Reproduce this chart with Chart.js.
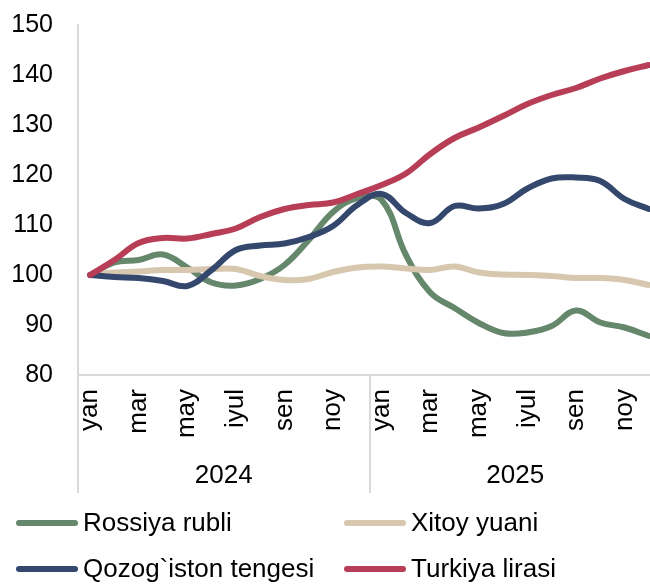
<!DOCTYPE html>
<html>
<head>
<meta charset="utf-8">
<script src="https://cdn.jsdelivr.net/npm/chart.js@4/dist/chart.umd.min.js"></script>
<style>
html,body{margin:0;padding:0;background:#fff;overflow:hidden;width:650px;height:585px;}
#wrap{position:absolute;left:0;top:0;width:662px;height:585px;}
</style>
</head>
<body>
<div id="wrap"><canvas id="c" width="662" height="585"></canvas></div>
<script>
const months = ['yan','fev','mar','apr','may','iyun','iyul','avg','sen','okt','noy','dek',
                'yan','fev','mar','apr','may','iyun','iyul','avg','sen','okt','noy','dek'];
const years = ['2024','2025'];
const rossiyaRubli = [100,102.5,103,104.1,101.5,98.5,97.9,99.2,102,107,112.6,115.4,
                      115,104,96.5,93.4,90.4,88.4,88.5,89.8,92.9,90.5,89.5,87.8];
const xitoyYuani = [100,100.5,100.7,101,101,101.2,101.2,99.8,99,99.2,100.6,101.5,
                    101.7,101.3,101,101.7,100.5,100.1,100,99.8,99.4,99.4,99,98];
const qozogistonTengesi = [100,99.6,99.4,98.8,97.8,101,105,105.9,106.3,107.6,109.8,114,
                           116.2,112.4,110.4,113.8,113.3,114.2,117.3,119.3,119.5,118.8,115.2,113.2];
const turkiyaLirasi = [100,103,106.4,107.4,107.3,108.2,109.3,111.6,113.2,114,114.5,116.2,
                       118,120.3,124.2,127.4,129.5,131.8,134.2,136,137.4,139.3,140.8,142];
const seriesNames = ['Rossiya rubli','Xitoy yuani','Qozog`iston tengesi','Turkiya lirasi'];
const yTicks = [80,90,100,110,120,130,140,150];

const colors = ['#65876b','#d6c7ae','#34486e','#b73e56'];
const FONT = "'Liberation Sans', Arial, sans-serif";
const GRIDC = '#d9d9d9';

const decor = {
  id: 'decor',
  afterDraw(chart) {
    const ctx = chart.ctx;
    const xs = chart.scales.x;
    const area = chart.chartArea;
    const slot = xs.getPixelForValue(1) - xs.getPixelForValue(0);
    ctx.save();
    ctx.strokeStyle = GRIDC;
    ctx.lineWidth = 2;
    [0, 12, 24].forEach(i => {
      const x = Math.round(xs.getPixelForValue(i) - slot / 2);
      ctx.beginPath();
      ctx.moveTo(x, area.bottom);
      ctx.lineTo(x, 493);
      ctx.stroke();
    });
    ctx.fillStyle = '#000';
    ctx.font = '26px ' + FONT;
    ctx.textAlign = 'center';
    ctx.textBaseline = 'middle';
    years.forEach((y, k) => {
      const x = (xs.getPixelForValue(k * 12) + xs.getPixelForValue(k * 12 + 11)) / 2;
      ctx.fillText(y, x, 476);
    });
    const pos = [[16, 523], [344, 523], [16, 569], [344, 569]];
    ctx.textAlign = 'left';
    ctx.lineCap = 'round';
    chart.data.datasets.forEach((ds, i) => {
      const [lx, ly] = pos[i];
      ctx.strokeStyle = ds.borderColor;
      ctx.lineWidth = 6;
      ctx.beginPath();
      ctx.moveTo(lx + 3, ly);
      ctx.lineTo(lx + 59, ly);
      ctx.stroke();
      ctx.fillStyle = '#000';
      ctx.fillText(ds.label, lx + 67, ly + 1);
    });
    ctx.restore();
  }
};

const datasets = [rossiyaRubli, xitoyYuani, qozogistonTengesi, turkiyaLirasi].map((d, i) => ({
  label: seriesNames[i],
  data: d,
  borderColor: colors[i],
  backgroundColor: colors[i],
  borderWidth: 6,
  pointRadius: 0,
  tension: 0.4,
  borderCapStyle: 'round',
  borderJoinStyle: 'round',
  fill: false,
  order: 4 - i
}));

new Chart(document.getElementById('c'), {
  type: 'line',
  data: { labels: months, datasets },
  options: {
    responsive: false,
    animation: false,
    devicePixelRatio: 1,
    layout: { padding: { top: 25, left: 0, right: 1, bottom: 0 } },
    plugins: { legend: { display: false }, tooltip: { enabled: false } },
    scales: {
      x: {
        type: 'category',
        offset: true,
        grid: { display: false, drawTicks: false },
        border: { display: true, color: GRIDC, width: 2 },
        ticks: {
          autoSkip: false,
          minRotation: 90,
          maxRotation: 90,
          padding: 14,
          color: '#000',
          font: { family: FONT, size: 26 },
          callback: function(v, i) { return i % 2 === 0 ? months[i] : ''; }
        },
        afterFit(s) { s.height = 210; s.paddingLeft = 0; s.paddingRight = 0; }
      },
      y: {
        min: 80,
        max: 150,
        afterBuildTicks(s) { s.ticks = yTicks.map(v => ({ value: v })); },
        grid: { display: false, drawTicks: false },
        border: { display: true, color: GRIDC, width: 2 },
        ticks: {
          padding: 25,
          color: '#000',
          font: { family: FONT, size: 25 }
        },
        afterFit(s) { s.width = 78; s.paddingTop = 0; s.paddingBottom = 0; }
      }
    }
  },
  plugins: [decor]
});
</script>
</body>
</html>
